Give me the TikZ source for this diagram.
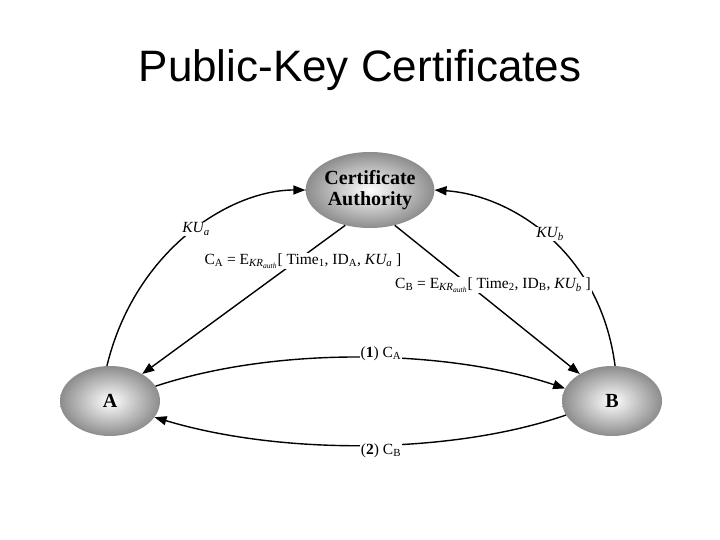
\documentclass[tikz,border=0pt]{standalone}
\usepackage{fontspec}
\setmainfont{Liberation Serif}
\newfontfamily\titlefont{Liberation Sans}
\usetikzlibrary{shapes.geometric,arrows.meta}
\begin{document}
\begin{tikzpicture}[x=1pt,y=-1pt,
  ent/.style={ellipse,minimum width=#1,inner sep=0pt,shading=radial,inner color=white,outer color=black!45,font=\bfseries\fontsize{20}{21}\selectfont,align=center},
  conn/.style={line width=1.4pt,-{Triangle[length=12pt,width=9pt]}},
  lab/.style={fill=white,inner sep=1pt,font=\fontsize{15.5}{17}\selectfont}]
\useasboundingbox (0,0) rectangle (720,540);
\node[font=\titlefont\fontsize{44}{48}\selectfont] (t) at (360,70) {Public-Key Certificates};
\node[ent=98pt,minimum height=76pt] (ca) at (370,190) {Certificate\\Authority};
\node[ent=100pt,minimum height=70pt] (a) at (110,401) {A};
\node[ent=100pt,minimum height=70pt] (b) at (612,401) {B};
\draw[conn] (a.95) .. controls (135,250) and (230,190) .. (ca.west);
\draw[conn] (b.85) .. controls (600,250) and (510,195) .. (ca.east);
\draw[conn] (ca.235) -- (a.40);
\draw[conn] (ca.305) -- (b.140);
\draw[conn] (a.18) .. controls (280,345) and (450,350) .. (b.165);
\draw[conn] (b.197) .. controls (450,455) and (280,455) .. (a.340);
\node[lab,font=\itshape\fontsize{15.5}{17}\selectfont] (kua) at (196,229) {KU\textsubscript{a}};
\node[lab,font=\itshape\fontsize{15.5}{17}\selectfont] (kub) at (550,234) {KU\textsubscript{b}};
\node[lab] (lca) at (303,261) {C\textsubscript{A} = E\textsubscript{\textit{KR\textsubscript{auth}}}[ Time\textsubscript{1}, ID\textsubscript{A}, \textit{KU\textsubscript{a}} ]};
\node[lab] (lcb) at (493,285) {C\textsubscript{B} = E\textsubscript{\textit{KR\textsubscript{auth}}}[ Time\textsubscript{2}, ID\textsubscript{B}, \textit{KU\textsubscript{b}} ]};
\node[lab] (l1) at (381,354) {(\textbf{1}) C\textsubscript{A}};
\node[lab] (l2) at (381,451) {(\textbf{2}) C\textsubscript{B}};
\end{tikzpicture}
\end{document}
